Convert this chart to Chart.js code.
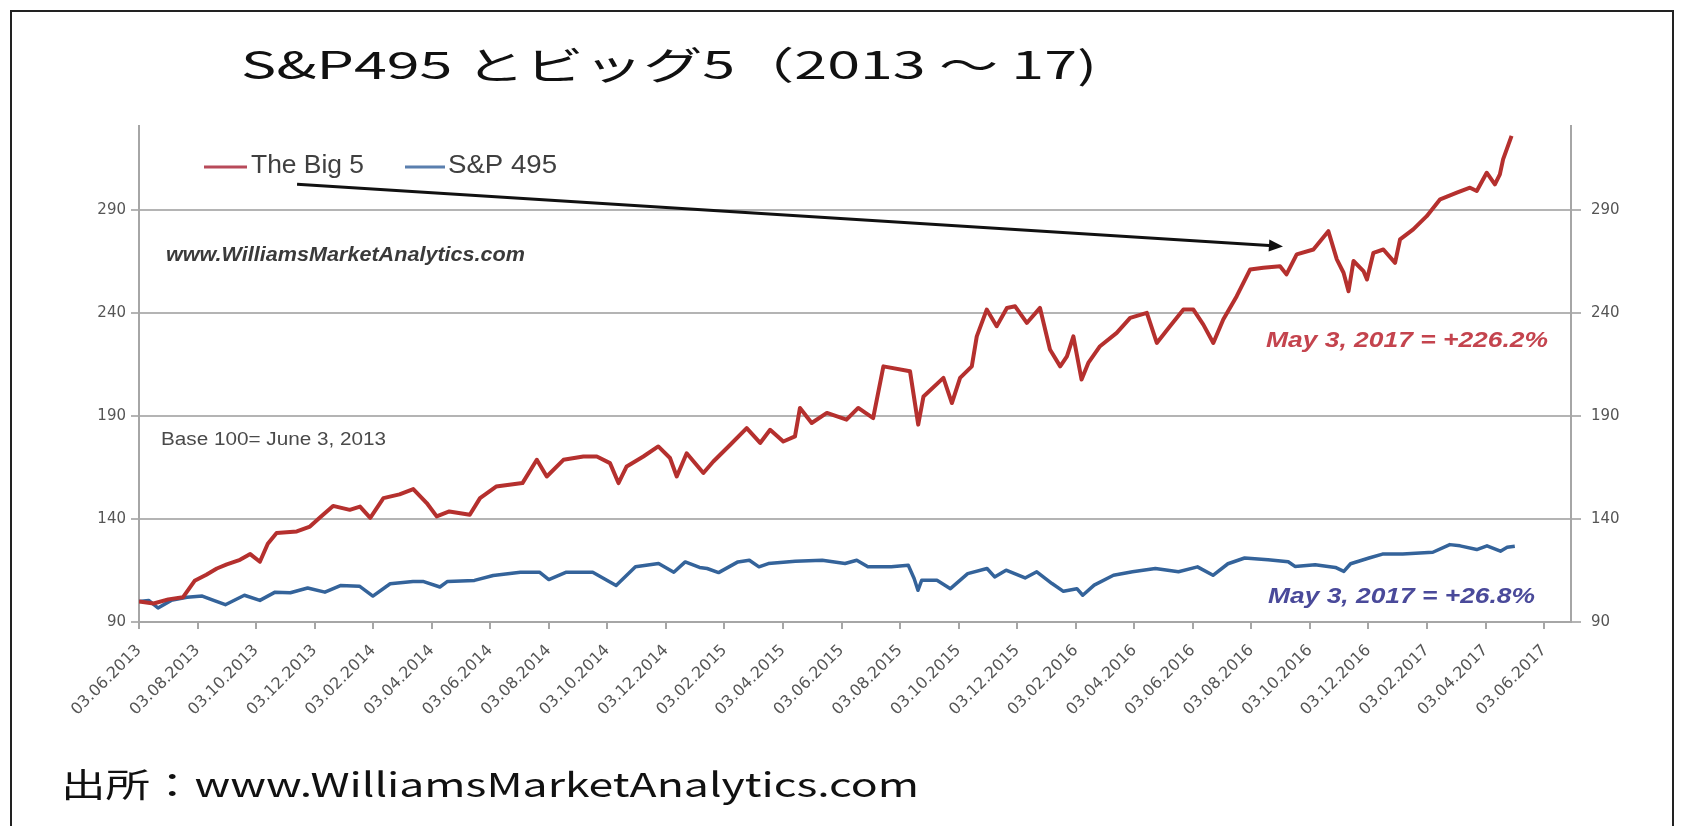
<!DOCTYPE html>
<html>
<head>
<meta charset="utf-8">
<script src="https://cdn.jsdelivr.net/npm/chart.js@4"></script>
<style>
  html, body { margin: 0; background: #fff; overflow: hidden; }
  #frame { position: absolute; left: 10px; top: 10px; width: 1664px; height: 900px;
           border: 2px solid #222; border-bottom: none; box-sizing: border-box; }
  #wrap { position: absolute; left: 0; top: 0; width: 1681px; height: 826px; }
  .txt { position: absolute; white-space: nowrap; line-height: 1; transform-origin: 0 50%;
         font-family: "Noto Sans CJK JP", "Noto Sans", sans-serif; color: #111; }
  #title { left: 241px; top: 44px; font-size: 38px; }
  #source { left: 61px; top: 767px; font-size: 33px; }
</style>
</head>
<body>
<div id="frame"></div>
<div id="wrap"><canvas id="chart"></canvas></div>
<div class="txt" id="title">S&amp;P495 とビッグ5（2013 ～ 17)</div>
<div class="txt" id="source">出所：www.WilliamsMarketAnalytics.com</div>

<script>
// x axis labels, one every two months from 03.06.2013
const dateLabels = [
  "03.06.2013", "03.08.2013", "03.10.2013", "03.12.2013", "03.02.2014", "03.04.2014",
  "03.06.2014", "03.08.2014", "03.10.2014", "03.12.2014", "03.02.2015", "03.04.2015",
  "03.06.2015", "03.08.2015", "03.10.2015", "03.12.2015", "03.02.2016", "03.04.2016",
  "03.06.2016", "03.08.2016", "03.10.2016", "03.12.2016", "03.02.2017", "03.04.2017",
  "03.06.2017"
];
const yTicks = [90, 140, 190, 240, 290];

// months after June 3, 2013 and index value (base 100)
const bigMonths = [0, 0.5, 1, 1.5, 1.9, 2.3, 2.66, 3, 3.45, 3.8, 4.13, 4.4, 4.7, 5.39, 5.84, 6.2, 6.63, 7.2, 7.55, 7.9,
  8.35, 8.9, 9.37, 9.83, 10.17, 10.6, 11.3, 11.65, 12.2, 13.1, 13.59, 13.93, 14.5, 15.18, 15.64, 16.09, 16.38, 16.66,
  17.23, 17.74, 18.14, 18.37, 18.71, 19.28, 19.62, 20.19, 20.76, 21.22, 21.56, 22.01, 22.41, 22.58, 22.98, 23.5,
  24.17, 24.57, 25.08, 25.43, 26.34, 26.62, 26.8, 27.48, 27.77, 28.05, 28.45, 28.62, 28.96, 29.3, 29.65, 29.93,
  30.33, 30.78, 31.12, 31.47, 31.7, 31.92, 32.2, 32.43, 32.83, 33.4, 33.86, 34.43, 34.77, 35.22, 35.68, 36.02,
  36.36, 36.7, 37.04, 37.5, 37.96, 38.41, 38.98, 39.2, 39.55, 40.12, 40.63, 40.92, 41.15, 41.32, 41.49, 41.83,
  41.95, 42.17, 42.51, 42.91, 43.08, 43.53, 43.99, 44.45, 45.02, 45.47, 45.7, 46.04, 46.32, 46.49, 46.6, 46.89];
const bigValues = [100, 99, 101, 102, 110, 113, 116, 118, 120.2, 123, 119.3, 128, 133.2, 134, 136.4, 141, 146.4, 144.5, 146.1, 140.6,
  150.2, 152, 154.6, 147.8, 141.3, 143.7, 142.1, 150.2, 155.8, 157.5, 168.8, 160.7, 168.8, 170.4, 170.4, 167.2, 157.5, 165.6,
  170.4, 175.3, 169.7, 160.7, 172, 162.4, 168, 176, 184.2, 177, 183.4, 177.7, 180.2, 194, 186.7, 191.6,
  188.3, 194, 189.1, 214.2, 211.8, 185.9, 199.6, 208.6, 196.4, 208.6, 214.2, 228.8, 241.8, 233.7, 242.6, 243.4,
  235.3, 242.6, 222.4, 214.2, 219.1, 228.8, 207.8, 215.9, 224, 230.5, 237.8, 240.2, 225.6, 233.7, 241.8, 241.8,
  234.5, 225.6, 237, 248.3, 261.3, 262.1, 262.9, 258.9, 268.6, 271, 279.9, 266.2, 259.7, 250.7, 265.4, 260.5,
  256.4, 269.4, 271, 264.5, 275.9, 280.8, 287.2, 295.4, 298.6, 301, 299.4, 308.3, 302.6, 307.5, 314.8, 326.2];

const spMonths = [0, 0.33, 0.65, 1.1, 1.64, 2.16, 2.55, 2.95, 3.6, 4.13, 4.65, 5.17, 5.76, 6.35, 6.88, 7.53, 7.99, 8.58,
  9.36, 9.7, 10.28, 10.54, 11.46, 12.1, 13.03, 13.68, 14, 14.6, 15.5, 16.3, 16.96, 17.75, 18.27, 18.66, 19.15, 19.41,
  19.8, 20.46, 20.85, 21.18, 21.5, 22.42, 23.34, 24.12, 24.52, 24.9, 25.7, 26.28, 26.48, 26.61, 26.74, 27.26, 27.72,
  28.31, 28.97, 29.23, 29.62, 30.27, 30.67, 31.19, 31.58, 32.04, 32.24, 32.63, 33.29, 33.94, 34.72, 35.51, 36.16,
  36.69, 37.2, 37.77, 38.57, 39.26, 39.49, 40.18, 40.87, 41.16, 41.39, 42.02, 42.48, 43.17, 44.2, 44.78, 45.13,
  45.7, 46.05, 46.51, 46.74, 47];
const spValues = [100, 100.5, 96.8, 100.5, 102, 102.6, 100.5, 98.4, 103, 100.5, 104.5, 104.2, 106.5, 104.5, 107.7, 107.4, 102.6, 108.6,
  109.7, 109.7, 107, 109.7, 110.2, 112.6, 114.2, 114.2, 110.6, 114.2, 114.2, 107.7, 116.8, 118.4, 114.2, 119.2, 116.5, 116,
  114, 119.2, 120, 116.8, 118.4, 119.5, 120, 118.4, 120, 116.8, 116.8, 117.6, 111.1, 105.4, 110.3, 110.3, 106.2,
  113.5, 116, 111.9, 115.2, 111.4, 114.4, 108.7, 104.9, 106.2, 103, 107.9, 112.7, 114.4, 116, 114.4, 116.8,
  112.7, 118.3, 121.1, 120.2, 119.3, 117, 117.8, 116.5, 114.6, 118.3, 121.1, 123, 123, 123.9, 127.6, 127,
  125.2, 127, 124.4, 126.3, 126.8];

// arrow from the legend to the 2016 peak, in [month, value]
const arrowFrom = [5.4, 302.7];
const arrowTo = [39.08, 272.5];

const RED = "#b5302e";
const BLUE = "#34639a";
const GRID = "#b4b4b4";
const tickFont = { family: "DejaVu Sans", size: 15 };

// text drawn at a given width, like the stretched original
function fitText(ctx, text, x, y, w, font, color) {
  ctx.save();
  ctx.font = font;
  const m = ctx.measureText(text).width;
  ctx.translate(x, y);
  ctx.scale(w / m, 1);
  ctx.fillStyle = color;
  ctx.textBaseline = "middle";
  ctx.textAlign = "left";
  ctx.fillText(text, 0, 0);
  ctx.restore();
}

const overlay = {
  id: "overlay",
  afterDatasetsDraw(chart) {
    const ctx = chart.ctx;
    const x = chart.scales.x, y = chart.scales.y;

    // legend
    ctx.save();
    ctx.lineWidth = 3;
    ctx.strokeStyle = "#b84a5a";
    ctx.beginPath(); ctx.moveTo(204, 167); ctx.lineTo(247, 167); ctx.stroke();
    ctx.strokeStyle = "#5a7fae";
    ctx.beginPath(); ctx.moveTo(405, 167); ctx.lineTo(445, 167); ctx.stroke();
    ctx.restore();
    fitText(ctx, chart.data.datasets[0].label, 251, 166, 113, "26px 'Liberation Sans'", "#404040");
    fitText(ctx, chart.data.datasets[1].label, 448, 166, 109, "26px 'Liberation Sans'", "#404040");

    fitText(ctx, "www.WilliamsMarketAnalytics.com", 166, 255, 359, "italic bold 21px 'Liberation Sans'", "#3a3a3a");
    fitText(ctx, "Base 100= June 3, 2013", 161, 440, 225, "18px 'Liberation Sans'", "#4a4a4a");
    fitText(ctx, "May 3, 2017 = +226.2%", 1266, 341, 282, "italic bold 22px 'Liberation Sans'", "#c4444e");
    fitText(ctx, "May 3, 2017 = +26.8%", 1268, 597, 267, "italic bold 22px 'Liberation Sans'", "#4a4a9a");

    // arrow
    const x0 = x.getPixelForValue(arrowFrom[0]), y0 = y.getPixelForValue(arrowFrom[1]);
    const x1 = x.getPixelForValue(arrowTo[0]), y1 = y.getPixelForValue(arrowTo[1]);
    const a = Math.atan2(y1 - y0, x1 - x0);
    ctx.save();
    ctx.strokeStyle = "#111";
    ctx.fillStyle = "#111";
    ctx.lineWidth = 3;
    ctx.beginPath();
    ctx.moveTo(x0, y0);
    ctx.lineTo(x1 - 10 * Math.cos(a), y1 - 10 * Math.sin(a));
    ctx.stroke();
    ctx.beginPath();
    ctx.moveTo(x1, y1);
    ctx.lineTo(x1 - 14 * Math.cos(a) + 6 * Math.sin(a), y1 - 14 * Math.sin(a) - 6 * Math.cos(a));
    ctx.lineTo(x1 - 14 * Math.cos(a) - 6 * Math.sin(a), y1 - 14 * Math.sin(a) + 6 * Math.cos(a));
    ctx.closePath();
    ctx.fill();
    ctx.restore();
  }
};

function yAxis(position, width, tickLength, padding, onChart) {
  return {
    position: position,
    min: 90,
    max: 331,
    afterBuildTicks: s => { s.ticks = yTicks.map(v => ({ value: v })); },
    afterFit: s => { s.width = width; },
    ticks: { color: "#555", font: tickFont, padding: padding },
    grid: { color: GRID, lineWidth: 2, tickLength: tickLength, drawOnChartArea: onChart },
    border: { color: "#a6a6a6", width: 2 }
  };
}

new Chart(document.getElementById("chart"), {
  type: "line",
  data: {
    datasets: [
      {
        label: "The Big 5",
        data: bigMonths.map((m, i) => ({ x: m, y: bigValues[i] })),
        borderColor: RED,
        borderWidth: 4
      },
      {
        label: "S&P 495",
        data: spMonths.map((m, i) => ({ x: m, y: spValues[i] })),
        borderColor: BLUE,
        borderWidth: 3.5
      }
    ]
  },
  options: {
    responsive: true,
    maintainAspectRatio: false,
    animation: false,
    layout: { padding: { top: 126, left: 0, right: 0, bottom: 0 } },
    elements: {
      point: { radius: 0 },
      line: { tension: 0, borderJoinStyle: "round", fill: false }
    },
    plugins: { legend: { display: false }, tooltip: { enabled: false } },
    scales: {
      x: {
        type: "linear",
        min: 0,
        max: 48.92,
        afterBuildTicks: s => { s.ticks = dateLabels.map((l, i) => ({ value: i * 2 })); },
        afterFit: s => { s.height = 204; },
        ticks: {
          autoSkip: false,
          minRotation: 45,
          maxRotation: 45,
          padding: 12,
          color: "#555",
          font: { family: "DejaVu Sans", size: 16 },
          callback: v => dateLabels[Math.round(v / 2)]
        },
        grid: { drawOnChartArea: false, tickLength: 7, color: "#a6a6a6", lineWidth: 2 },
        border: { color: "#a6a6a6", width: 2 }
      },
      y: yAxis("left", 139, 8, 5, true),
      y2: yAxis("right", 110, 10, 10, false)
    }
  },
  plugins: [overlay]
});

// stretch the heading and source line to the widths of the original
function stretch(id, target) {
  const el = document.getElementById(id);
  el.style.transform = "none";
  el.style.transform = `scaleX(${target / el.getBoundingClientRect().width})`;
}
function stretchAll() {
  stretch("title", 856);
  stretch("source", 858);
}
stretchAll();
document.fonts.ready.then(stretchAll);
</script>
</body>
</html>
